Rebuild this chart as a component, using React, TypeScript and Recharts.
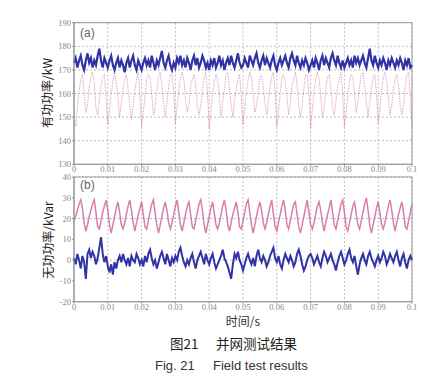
import { LineChart, Line, XAxis, YAxis, CartesianGrid, ReferenceArea } from "recharts";

// sampling interval of the recorded waveforms (s)
const SAMPLE_STEP = 0.0005;

const timeTicks = [0, 0.01, 0.02, 0.03, 0.04, 0.05, 0.06, 0.07, 0.08, 0.09, 0.1];
const activeTicks = [130, 140, 150, 160, 170, 180, 190];
const reactiveTicks = [-20, -10, 0, 10, 20, 30, 40];

// (a) active power, kW
const activeBlue = [
  173, 175, 171, 174, 176, 172, 170, 174, 177, 173, 175, 171, 174, 172, 176, 179, 174, 171, 175, 173,
  171, 174, 176, 172, 170, 173, 175, 171, 174, 172, 169, 173, 175, 171, 174, 176, 172, 170, 174, 172,
  170, 173, 175, 172, 174, 171, 176, 173, 170, 174, 172, 175, 178, 173, 171, 174, 176, 172, 170, 173,
  171, 175, 173, 176, 172, 174, 171, 175, 173, 170, 174, 176, 172, 175, 171, 173, 176, 174, 171, 173,
  170, 174, 172, 175, 171, 173, 176, 172, 174, 170, 173, 175, 172, 176, 173, 171, 174, 177, 173, 171,
  172, 175, 173, 171, 176, 174, 172, 175, 177, 173, 171, 174, 176, 172, 175, 173, 171, 174, 176, 172,
  170, 173, 175, 172, 174, 176, 173, 171, 175, 177, 174, 172, 176, 173, 171, 174, 172, 175, 173, 170,
  172, 174, 171, 175, 173, 170, 174, 176, 172, 175, 173, 171, 175, 177, 174, 172, 176, 173, 171, 174,
  171, 173, 175, 172, 174, 171, 176, 173, 175, 172, 174, 176, 173, 171, 175, 179, 174, 172, 176, 173,
  171, 174, 172, 175, 173, 170, 174, 172, 175, 173, 171, 174, 172, 175, 173, 170, 174, 172, 175, 171,
  172,
];
const activePink = [
  148, 146, 154, 161, 166, 168, 160, 152, 155, 163, 167, 169, 164, 154, 151, 157, 163, 167, 168, 158,
  147, 153, 160, 165, 169, 165, 158, 150, 156, 162, 166, 168, 162, 155, 149, 155, 161, 166, 169, 159,
  146, 152, 159, 166, 168, 167, 160, 151, 154, 161, 167, 169, 163, 156, 150, 156, 163, 168, 168, 161,
  147, 154, 161, 167, 169, 166, 158, 152, 155, 163, 166, 168, 164, 154, 151, 155, 162, 167, 169, 160,
  145, 152, 160, 165, 168, 166, 159, 150, 156, 162, 168, 169, 162, 155, 150, 157, 162, 166, 168, 159,
  147, 153, 161, 166, 169, 167, 160, 152, 155, 161, 167, 168, 163, 156, 151, 156, 163, 167, 169, 161,
  146, 152, 160, 167, 168, 165, 158, 151, 156, 163, 166, 169, 164, 155, 150, 155, 162, 168, 168, 160,
  145, 153, 161, 166, 169, 166, 159, 150, 154, 162, 167, 168, 162, 154, 151, 157, 163, 166, 169, 159,
  146, 152, 160, 165, 168, 167, 160, 152, 156, 163, 168, 169, 163, 156, 150, 156, 162, 167, 168, 160,
  147, 153, 161, 167, 169, 165, 158, 151, 155, 162, 166, 168, 164, 155, 151, 155, 163, 168, 169, 158,
  146,
];

// (b) reactive power, kVar
const reactivePink = [
  19, 21, 24, 27, 29, 25, 18, 14, 17, 21, 24, 27, 29, 23, 16, 15, 19, 23, 26, 29,
  24, 17, 13, 17, 21, 25, 28, 23, 17, 15, 18, 22, 26, 29, 24, 18, 14, 18, 22, 25,
  28, 22, 16, 15, 19, 23, 27, 29, 23, 17, 13, 17, 21, 25, 28, 24, 18, 15, 18, 22,
  26, 29, 23, 17, 14, 18, 22, 26, 28, 22, 16, 15, 19, 23, 27, 29, 24, 17, 13, 17,
  21, 25, 28, 23, 17, 15, 18, 22, 26, 29, 24, 17, 14, 18, 22, 25, 28, 23, 16, 15,
  19, 23, 27, 29, 23, 17, 13, 17, 21, 25, 28, 24, 18, 15, 18, 22, 26, 29, 22, 16,
  14, 18, 22, 26, 29, 24, 17, 15, 19, 23, 27, 28, 22, 16, 13, 17, 21, 25, 29, 23,
  17, 15, 18, 22, 26, 28, 24, 18, 14, 18, 22, 25, 29, 23, 17, 15, 19, 23, 27, 29,
  23, 16, 14, 18, 22, 26, 28, 22, 17, 15, 19, 23, 27, 30, 24, 17, 13, 17, 21, 25,
  28, 23, 17, 15, 18, 22, 26, 29, 24, 18, 14, 18, 22, 25, 28, 23, 16, 15, 19, 23,
  27,
];
const reactiveBlue = [
  1, -2, 3, 0, -4, 2, -1, -9, 3, 5, 1, 4, 2, -2, 1, 6, 11, 3, -1, 2,
  -3, -6, -2, -7, -1, -4, 0, 2, -1, 3, 0, -2, 1, -3, 2, 0, -1, 3, 1, -2,
  0, -3, 2, -1, 3, 5, 1, -2, 0, -4, -1, 2, 4, 1, -2, 3, 0, -3, 1, -1,
  2, 0, 4, 6, 2, -1, -3, 0, -2, 1, 3, -1, -4, 0, 2, 4, 1, -2, 3, 0,
  -2, 1, 3, -1, -4, -2, 0, 2, 5, 1, -1, -3, -6, -9, -2, 3, 1, 4, 0, -2,
  -5, -2, 1, 3, 0, -2, 1, -3, 2, 5, 1, -1, 2, 0, -3, -1, 2, 4, 6, 1,
  -1, 2, -2, -4, 0, 3, 1, -1, 2, 0, -3, -1, 3, 5, 2, -2, -5, -3, 0, 2,
  3, 1, -2, 0, 2, -1, -3, 1, 4, 2, -1, 1, 3, 0, -2, -5, -1, 2, 4, 1,
  -2, 0, 3, 5, 1, -1, 2, -3, -7, -2, 1, 3, 0, -2, 2, 4, 1, -1, -3, 0,
  2, -1, 1, 4, 2, -2, 0, 3, 1, -1, 2, 4, 0, -3, 1, 3, -1, -4, 0, 2,
  0,
];

const activeData = activeBlue.map((v, i) => ({ t: i * SAMPLE_STEP, blue: v, pink: activePink[i] }));
const reactiveData = reactiveBlue.map((v, i) => ({ t: i * SAMPLE_STEP, blue: v, pink: reactivePink[i] }));

const BLUE = "#2f33a6";
const PINK = "#d0679d";
const tickFont = { fontSize: 8.5, fill: "#888", fontFamily: "Liberation Serif, serif" };
const fmtTime = (v: number) => (v === 0 ? "0" : String(Number(v.toFixed(2))));

export default function App() {
  return (
    <div style={{ position: "absolute", left: 0, top: 0, width: 442, height: 384, background: "#fff" }}>
      <div style={{ position: "absolute", left: 0, top: 0 }}>
        <LineChart width={442} height={185} data={activeData} margin={{ top: 22.7, right: 30, left: 0, bottom: 8.7 }}>
          <CartesianGrid strokeDasharray="2 2" stroke="#bdbdbd" />
          <XAxis
            dataKey="t"
            type="number"
            domain={[0, 0.1]}
            ticks={timeTicks}
            tickFormatter={fmtTime}
            height={12}
            tickSize={2}
            tickMargin={0}
            tick={tickFont}
            stroke="#999"
          />
          <YAxis domain={[130, 190]} ticks={activeTicks} width={74} tickSize={2} tickMargin={1} tick={tickFont} stroke="#999" />
          <ReferenceArea x1={0} x2={0.1} y1={130} y2={190} fill="none" stroke="#999" strokeOpacity={1} />
          <Line type="linear" dataKey="pink" stroke={PINK} strokeWidth={1} strokeOpacity={0.6} strokeDasharray="1.5 1" dot={false} isAnimationActive={false} />
          <Line type="linear" dataKey="blue" stroke={BLUE} strokeWidth={2.2} dot={false} isAnimationActive={false} />
        </LineChart>
      </div>
      <div style={{ position: "absolute", left: 0, top: 170 }}>
        <LineChart width={442} height={160} data={reactiveData} margin={{ top: 7, right: 30, left: 0, bottom: 14.3 }}>
          <CartesianGrid strokeDasharray="2 2" stroke="#bdbdbd" />
          <XAxis
            dataKey="t"
            type="number"
            domain={[0, 0.1]}
            ticks={timeTicks}
            tickFormatter={fmtTime}
            height={14}
            tickSize={2}
            tickMargin={0}
            tick={tickFont}
            stroke="#999"
          />
          <YAxis domain={[-20, 40]} ticks={reactiveTicks} width={74} tickSize={2} tickMargin={1} tick={tickFont} stroke="#999" />
          <ReferenceArea x1={0} x2={0.1} y1={-20} y2={40} fill="none" stroke="#999" strokeOpacity={1} />
          <Line type="linear" dataKey="pink" stroke={PINK} strokeWidth={1.5} strokeOpacity={0.85} dot={false} isAnimationActive={false} />
          <Line type="linear" dataKey="blue" stroke={BLUE} strokeWidth={2} dot={false} isAnimationActive={false} />
        </LineChart>
      </div>
      <svg width={442} height={384} style={{ position: "absolute", left: 0, top: 0, pointerEvents: "none" }}>
        <text x={80} y={33} fontSize={12} fill="#666" fontFamily="Liberation Sans, sans-serif" dominantBaseline="central">(a)</text>
        <text x={80} y={185} fontSize={12} fill="#666" fontFamily="Liberation Sans, sans-serif" dominantBaseline="central">(b)</text>
        <text transform="translate(46,93) rotate(-90)" textAnchor="middle" dominantBaseline="central" fontSize={12} fill="#222" fontFamily="Noto Sans CJK SC, sans-serif">有功功率/kW</text>
        <text transform="translate(47,240) rotate(-90)" textAnchor="middle" dominantBaseline="central" fontSize={12} fill="#222" fontFamily="Noto Sans CJK SC, sans-serif">无功功率/kVar</text>
        <text x={243} y={320} textAnchor="middle" dominantBaseline="central" fontSize={12} fill="#333" fontFamily="Noto Sans CJK SC, sans-serif">时间/s</text>
        <text x={170} y={343} dominantBaseline="central" fontSize={13.5} fill="#222" fontFamily="Noto Sans CJK SC, sans-serif">图21</text>
        <text x={216} y={343} dominantBaseline="central" fontSize={13.5} fill="#222" fontFamily="Noto Sans CJK SC, sans-serif">并网测试结果</text>
        <text x={155} y={365} dominantBaseline="central" fontSize={13} fill="#333" fontFamily="Liberation Sans, sans-serif">Fig. 21</text>
        <text x={213} y={365} dominantBaseline="central" fontSize={13} fill="#333" fontFamily="Liberation Sans, sans-serif">Field test results</text>
      </svg>
    </div>
  );
}
